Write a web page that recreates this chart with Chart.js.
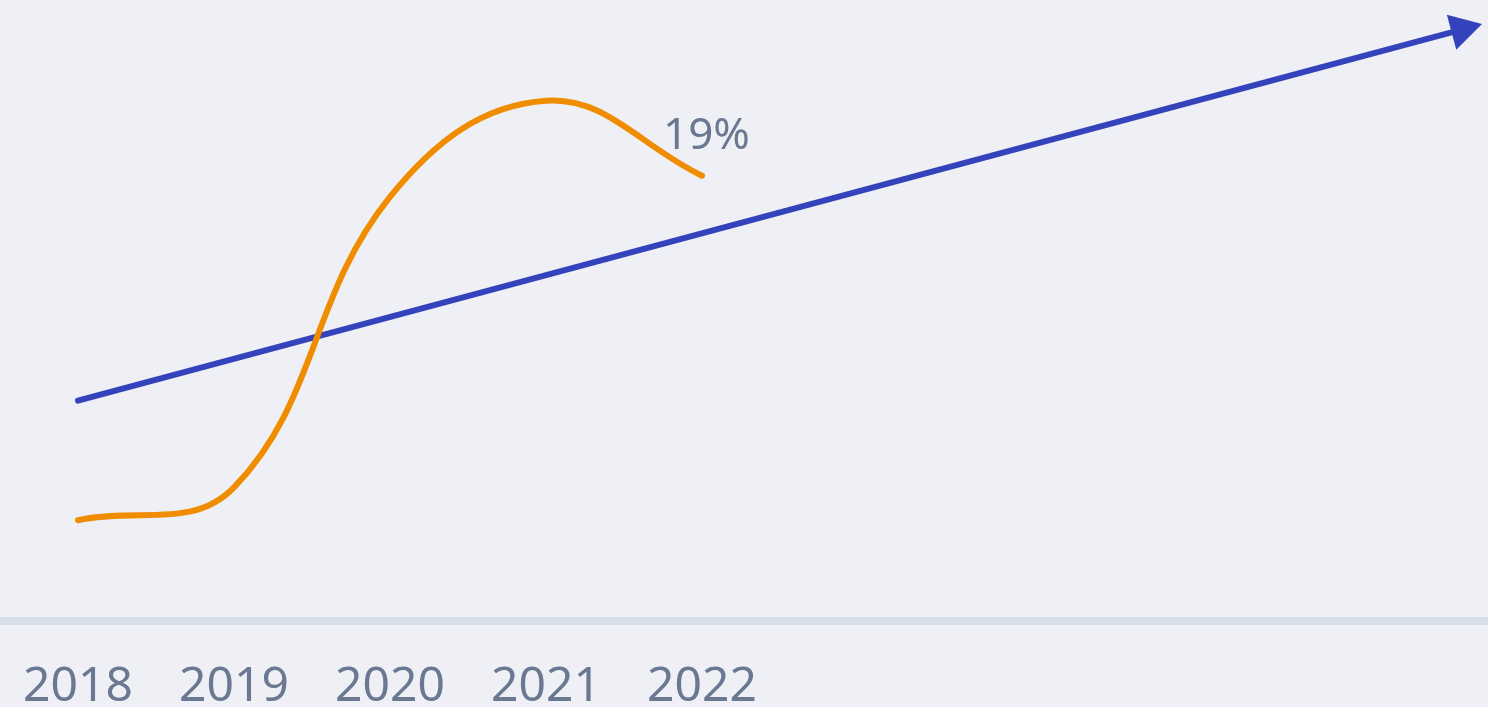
<!DOCTYPE html>
<html>
<head>
<meta charset="utf-8">
<script src="https://cdn.jsdelivr.net/npm/chart.js@4/dist/chart.umd.min.js"></script>
<style>
  html, body { margin: 0; padding: 0; background: #eef0f5; }
  #wrap { width: 1488px; height: 707px; position: relative; }
</style>
</head>
<body>
<div id="wrap"><canvas id="growthChart"></canvas></div>
<script>
// --- data ---
const years = [2018, 2019, 2020, 2021, 2022];
const shareValues = [4.3, 5.7, 18.1, 22.2, 19];   // orange series, %
const trendYears = [2018, 2026.87];                // blue trend arrow
const trendValues = [9.4, 25.24];
const lastLabel = '19%';

const textColor = '#6b7891';
const fontFamily = "'Noto Sans', sans-serif";

// writes the value label next to the last orange point
const endLabel = {
    id: 'endLabel',
    afterDatasetsDraw(chart) {
        const meta = chart.getDatasetMeta(0);
        const pt = meta.data[meta.data.length - 1];
        const ctx = chart.ctx;
        ctx.save();
        ctx.font = '44px ' + fontFamily;
        ctx.fillStyle = textColor;
        ctx.textAlign = 'left';
        ctx.textBaseline = 'alphabetic';
        ctx.fillText(lastLabel, pt.x - 39, pt.y - 27);
        ctx.restore();
    }
};

new Chart(document.getElementById('growthChart'), {
    type: 'line',
    data: {
        datasets: [{
            data: years.map((y, i) => ({ x: y, y: shareValues[i] })),
            borderColor: '#f08c00',
            borderWidth: 6,
            borderCapStyle: 'round',
            tension: 0.4,
            pointRadius: 0,
            clip: false
        }, {
            data: trendYears.map((y, i) => ({ x: y, y: trendValues[i] })),
            borderColor: '#3442bb',
            borderWidth: 6,
            borderCapStyle: 'round',
            tension: 0,
            pointRadius: [0, 21],
            pointStyle: 'triangle',
            pointRotation: 75,
            pointBackgroundColor: '#3442bb',
            pointBorderWidth: 0,
            clip: false
        }]
    },
    options: {
        responsive: true,
        maintainAspectRatio: false,
        animation: false,
        layout: { padding: 0, autoPadding: false },
        plugins: { legend: { display: false }, tooltip: { enabled: false } },
        scales: {
            x: {
                type: 'linear',
                min: 2017.5,
                max: 2017.5 + 1488 / 156,
                afterBuildTicks: (scale) => { scale.ticks = years.map(v => ({ value: v })); },
                afterFit: (scale) => {
                    scale.height = 86;
                    scale.paddingLeft = 0;
                    scale.paddingRight = 0;
                },
                ticks: {
                    color: textColor,
                    font: { family: fontFamily, size: 48 },
                    padding: 38,
                    maxRotation: 0,
                    callback: (v) => String(v)
                },
                grid: { display: false, drawTicks: false },
                border: { display: true, color: '#d9deec', width: 8 }
            },
            y: {
                display: false,
                min: 0,
                max: 26.5
            }
        }
    },
    plugins: [endLabel]
});
</script>
</body>
</html>
